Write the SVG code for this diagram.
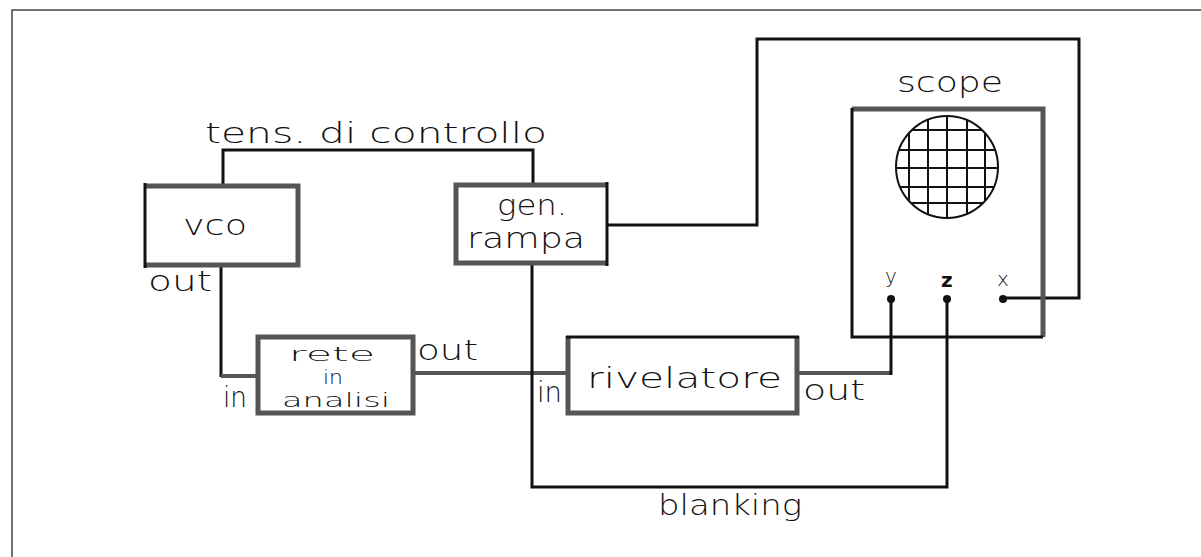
<svg xmlns="http://www.w3.org/2000/svg" width="1201" height="557" viewBox="0 0 1201 557">
<style>
text{font-family:"DejaVu Sans","Liberation Sans",sans-serif;font-size:28px;font-weight:200;fill:#111}
.w{fill:none;stroke:#111;stroke-width:3}
.g{fill:none;stroke:#555;stroke-width:5}
.k{fill:none;stroke:#111;stroke-width:3}
.grid{stroke:#111;stroke-width:2}
.sm{font-size:20px}
.b{font-weight:bold}
.r{font-size:19px}
</style>
<defs>
<clipPath id="screen"><circle cx="947" cy="167" r="51"/></clipPath>
</defs>
<rect width="1201" height="557" fill="#fff"/>
<path d="M12,557 V10 H1201" fill="none" stroke="#444" stroke-width="1.5"/>
<g id="connectors">
<path class="w" d="M223,186 V150 H533 V185"/>
<path class="w" d="M221,265 V377"/>
<path class="g" style="stroke-width:4" d="M221,376 H258"/>
<path class="g" style="stroke-width:4" d="M413,373 H568"/>
<path class="w" d="M532,263 V487 H947 V299"/>
<path class="g" style="stroke-width:4" d="M797,373 H891"/>
<path class="w" d="M891,375 V299"/>
<path class="w" d="M607,225 H757 V39 H1079 V298 H1003"/>
<text x="205" y="143" textLength="342" lengthAdjust="spacingAndGlyphs">tens. di controllo</text>
<text x="658" y="515" textLength="144" lengthAdjust="spacingAndGlyphs">blanking</text>
</g>
<g id="vco">
<path class="g" d="M145,186 H298 V265 H145"/>
<path class="k" d="M145,183 V268"/>
<text x="183" y="235" textLength="64" lengthAdjust="spacingAndGlyphs">vco</text>
<text x="148" y="291" textLength="64" lengthAdjust="spacingAndGlyphs">out</text>
</g>
<g id="gen-rampa">
<path class="g" d="M607,185 H456 V263 H607"/>
<path class="k" d="M607,182 V266"/>
<text x="497" y="215" textLength="70" lengthAdjust="spacingAndGlyphs">gen.</text>
<text x="467" y="248" textLength="118" lengthAdjust="spacingAndGlyphs">rampa</text>
</g>
<g id="rete">
<rect class="g" x="258" y="337" width="155" height="76"/>
<text x="223" y="407" textLength="24" lengthAdjust="spacingAndGlyphs">in</text>
<text class="r" x="289" y="361" textLength="86" lengthAdjust="spacingAndGlyphs">rete</text>
<text class="r" x="323" y="384" textLength="20" lengthAdjust="spacingAndGlyphs">in</text>
<text class="r" x="282" y="407" textLength="108" lengthAdjust="spacingAndGlyphs">analisi</text>
<text x="417" y="360" textLength="61" lengthAdjust="spacingAndGlyphs">out</text>
</g>
<g id="rivelatore">
<path class="g" d="M568,336 V413 H797 V336"/>
<path class="k" d="M566,337 H799"/>
<text x="537" y="402" textLength="25" lengthAdjust="spacingAndGlyphs">in</text>
<text x="587" y="388" textLength="195" lengthAdjust="spacingAndGlyphs">rivelatore</text>
<text x="803" y="400" textLength="62" lengthAdjust="spacingAndGlyphs">out</text>
</g>
<g id="scope">
<path class="g" d="M852,109 H1043 V337"/>
<path class="k" d="M852,108 V337 H1043"/>
<text x="897" y="92" textLength="106" lengthAdjust="spacingAndGlyphs">scope</text>
<g clip-path="url(#screen)">
<path class="grid" d="M909,110 V230 M928,110 V230 M947,110 V230 M967,110 V230 M985,110 V230 M890,130 H1005 M890,150 H1005 M890,168 H1005 M890,187 H1005 M890,203 H1005"/>
</g>
<circle cx="947" cy="167" r="51" fill="none" stroke="#111" stroke-width="2"/>
<text class="sm" x="885" y="283">y</text>
<text class="sm b" x="941" y="287">z</text>
<text class="sm" x="997" y="286">x</text>
<circle cx="891" cy="299" r="4" fill="#111"/>
<circle cx="947" cy="299" r="4" fill="#111"/>
<circle cx="1003" cy="299" r="4" fill="#111"/>
</g>
</svg>
